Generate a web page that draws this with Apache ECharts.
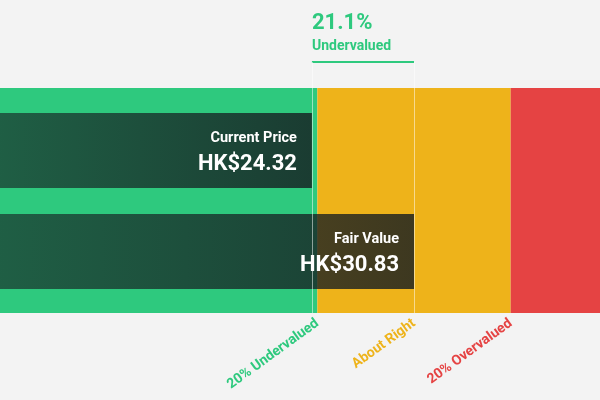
<!DOCTYPE html>
<html lang="en" style="height: 100%">
<head>
  <meta charset="utf-8">
</head>
<body style="height: 100%; margin: 0">
  <div id="container" style="height: 100%"></div>

  <script type="text/javascript" src="https://cdn.jsdelivr.net/npm/echarts@6/dist/echarts.min.js"></script>

  <script type="text/javascript">
    // values
    const categories = ['Current Price', 'Fair Value'];
    const prices = [24.32, 30.83];
    const currency = 'HK$';
    const zoneLabels = ['20% Undervalued', 'About Right', '20% Overvalued'];
    const zoneFactors = [0.8, 1.0, 1.2];
    const axisRange = [4.43, 42.69];

    const GREEN = '#2ec97e';
    const YELLOW = '#eeb31a';
    const RED = '#e54343';
    const FONT = 'Roboto';

    var dom = document.getElementById('container');
    var myChart = echarts.init(dom, null, { renderer: 'canvas' });

    const fairValue = prices[1];
    const zoneEdges = zoneFactors.map((f) => +(f * fairValue).toFixed(3));
    const diffPct = ((prices[1] - prices[0]) / prices[1]) * 100;
    const zoneColors = [GREEN, YELLOW, RED];

    const xAxisBase = {
      type: 'value',
      min: axisRange[0],
      max: axisRange[1],
      splitLine: { show: false },
      axisLine: { show: false },
      axisTick: { show: false },
      axisLabel: { show: false }
    };

    var option = {
      backgroundColor: '#f3f3f3',
      animation: false,
      textStyle: { fontFamily: FONT },
      grid: [
        { left: 0, right: 0, top: 88, height: 225 },
        { left: 0, right: 0, top: 100, height: 202 },
        { left: 0, right: 0, top: 62, height: 251 }
      ],
      xAxis: [
        Object.assign({}, xAxisBase, {
          gridIndex: 0,
          axisLabel: {
            show: true,
            customValues: zoneEdges,
            rotate: 36,
            margin: 9,
            fontSize: 14,
            fontWeight: 'bold',
            fontFamily: FONT,
            formatter: (v) => zoneLabels[zoneEdges.indexOf(v)] || '',
            color: (v) => zoneColors[zoneEdges.indexOf(+v)] || '#999'
          }
        }),
        Object.assign({}, xAxisBase, { gridIndex: 1 }),
        Object.assign({}, xAxisBase, { gridIndex: 2 })
      ],
      yAxis: [
        { type: 'value', gridIndex: 0, min: 0, max: 1, show: false },
        {
          type: 'category',
          gridIndex: 1,
          data: categories,
          inverse: true,
          show: false
        },
        { type: 'value', gridIndex: 2, min: 0, max: 1, show: false }
      ],
      series: [
        {
          type: 'line',
          xAxisIndex: 0,
          yAxisIndex: 0,
          data: [],
          z: 1,
          markArea: {
            silent: true,
            data: [
              [{ xAxis: axisRange[0], itemStyle: { color: GREEN } }, { xAxis: zoneEdges[0] }],
              [{ xAxis: zoneEdges[0], itemStyle: { color: YELLOW } }, { xAxis: zoneEdges[2] }],
              [{ xAxis: zoneEdges[2], itemStyle: { color: RED } }, { xAxis: axisRange[1] }]
            ]
          }
        },
        {
          type: 'bar',
          xAxisIndex: 1,
          yAxisIndex: 1,
          z: 2,
          barWidth: 75,
          data: prices,
          itemStyle: {
            color: {
              type: 'linear',
              x: 0, y: 0, x2: 1, y2: 0,
              colorStops: [
                { offset: 0, color: 'rgba(22,29,33,0.62)' },
                { offset: 1, color: 'rgba(22,29,33,0.82)' }
              ]
            }
          },
          label: {
            show: true,
            position: 'insideRight',
            distance: 15,
            offset: [0, 4],
            formatter: (p) =>
              '{a|' + categories[p.dataIndex] + '}\n{b|' + currency + p.value.toFixed(2) + '}',
            rich: {
              a: {
                color: '#fff', fontSize: 14.5, fontWeight: 'bold',
                fontFamily: FONT, lineHeight: 20, align: 'right'
              },
              b: {
                color: '#fff', fontSize: 22, fontWeight: 'bold',
                fontFamily: FONT, lineHeight: 32, align: 'right'
              }
            }
          }
        },
        {
          type: 'line',
          xAxisIndex: 2,
          yAxisIndex: 2,
          z: 3,
          clip: false,
          symbol: 'circle',
          symbolSize: 0,
          showSymbol: true,
          silent: true,
          lineStyle: { color: GREEN, width: 2 },
          data: [
            {
              value: [prices[0], 1],
              label: {
                show: true,
                position: 'top',
                align: 'left',
                distance: 6,
                formatter: '{p|' + diffPct.toFixed(1) + '%}\n{u|Undervalued}',
                rich: {
                  p: {
                    color: GREEN, fontSize: 22, fontWeight: 'bold',
                    fontFamily: FONT, lineHeight: 26
                  },
                  u: {
                    color: GREEN, fontSize: 14, fontWeight: 'bold',
                    fontFamily: FONT, lineHeight: 20
                  }
                }
              }
            },
            [prices[1], 1]
          ],
          markLine: {
            silent: true,
            symbol: 'none',
            label: { show: false },
            lineStyle: { color: 'rgba(255,255,255,0.5)', width: 1, type: 'solid' },
            data: [{ xAxis: prices[0] }, { xAxis: prices[1] }]
          }
        }
      ]
    };

    myChart.setOption(option);
    window.addEventListener('resize', myChart.resize);
  </script>
</body>
</html>
